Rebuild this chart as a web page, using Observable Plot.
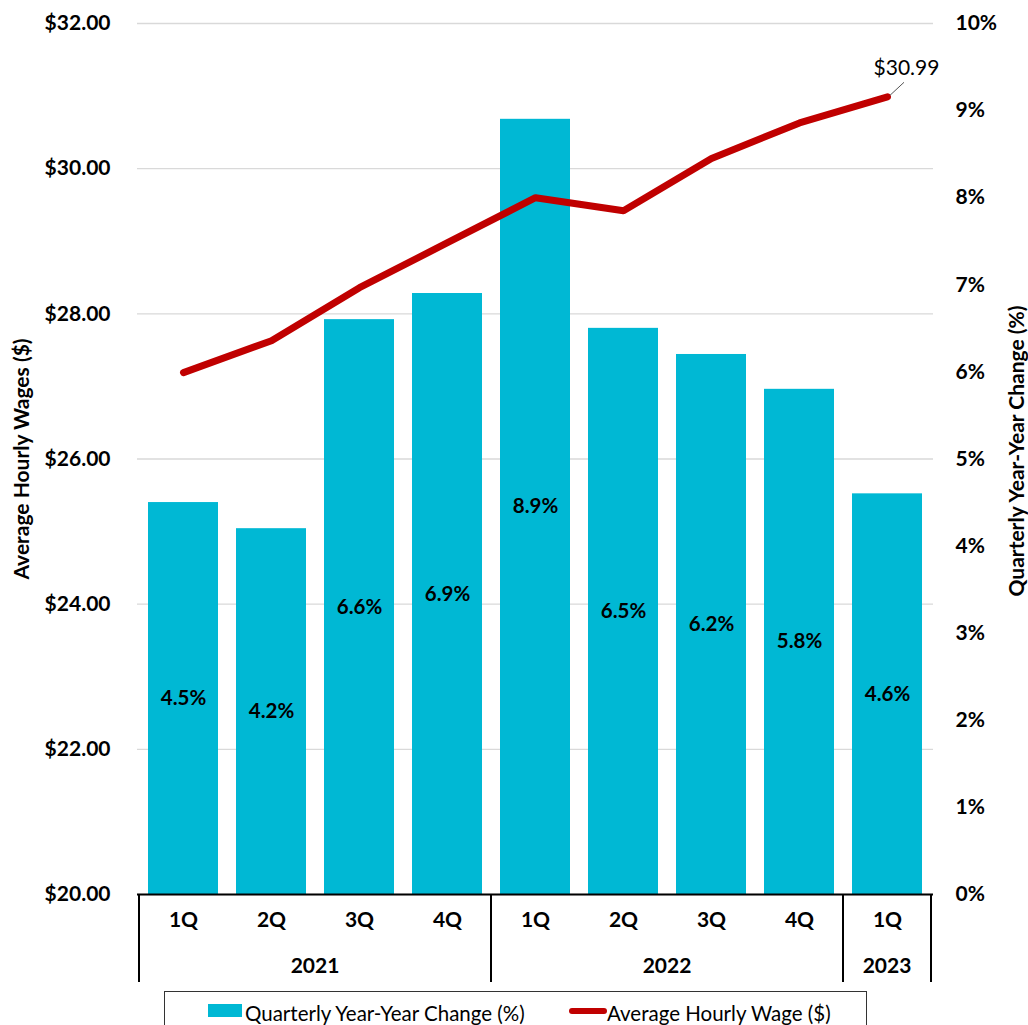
<!DOCTYPE html>
<html>
<head>
<meta charset="utf-8">
<script src="https://cdn.jsdelivr.net/npm/d3@7"></script>
<script src="https://cdn.jsdelivr.net/npm/@observablehq/plot@0.6"></script>
<style>
  html, body { margin: 0; padding: 0; background: #fff; }
  body { position: relative; width: 1028px; height: 1025px; overflow: hidden; font-family: Lato, "Open Sans", sans-serif; }
  #chart svg { display: block; }
  #legend { position: absolute; left: 164px; top: 991px; width: 703px; height: 50px; box-sizing: border-box;
            border: 1.5px solid #333; background: #fff; }
  .item { position: absolute; top: 9px; font-size: 20.5px; color: #000; line-height: 24px; white-space: nowrap; }
  .sw-bar { position: absolute; left: 43px; top: 12px; width: 34px; height: 13px; background: #00B8D4; }
  .sw-line { position: absolute; left: 404px; top: 16px; width: 38px; height: 6px; border-radius: 3px; background: #C00000; }
</style>
</head>
<body>
<div id="chart"></div>
<div id="legend">
  <div class="sw-bar"></div><div class="item" style="left:80px">Quarterly Year-Year Change (%)</div>
  <div class="sw-line"></div><div class="item" style="left:442px">Average Hourly Wage ($)</div>
</div>
<script>
// ---- data ----
const quarters   = ["1Q", "2Q", "3Q", "4Q", "1Q", "2Q", "3Q", "4Q", "1Q"];
const years      = ["2021", "2021", "2021", "2021", "2022", "2022", "2022", "2022", "2023"];
const yoyChange  = [4.5, 4.2, 6.6, 6.9, 8.9, 6.5, 6.2, 5.8, 4.6];            // %
const hourlyWage = [27.19, 27.63, 28.36, 28.98, 29.60, 29.42, 30.14, 30.63, 30.99]; // $
const wageTicks  = [20, 22, 24, 26, 28, 30, 32];
const pctTicks   = [0, 1, 2, 3, 4, 5, 6, 7, 8, 9, 10];
const wageDomain = [20, 32];
const pctDomain  = [0, 10];
const leftTitle  = "Average Hourly Wages ($)";
const rightTitle = "Quarterly Year-Year Change (%)";

// map wage ($) onto the percent axis so both share one y scale
const toPct = w => (w - wageDomain[0]) / (wageDomain[1] - wageDomain[0]) * (pctDomain[1] - pctDomain[0]) + pctDomain[0];

const data = quarters.map((q, i) => ({
  key: years[i] + " " + q, quarter: q, year: years[i], pct: yoyChange[i], wage: hourlyWage[i]
}));
const last = data[data.length - 1];

const W = 1028, H = 990, baseY = 894;
const bold = {fontSize: 21, fontWeight: "bold", fill: "#000"};
const FONT = "Lato, 'Open Sans', sans-serif";

const plot = Plot.plot({
  width: W, height: H,
  marginLeft: 137, marginRight: 95, marginTop: 23, marginBottom: H - baseY,
  style: {fontFamily: FONT, background: "#fff", color: "#000", overflow: "visible"},
  x: {type: "band", domain: data.map(d => d.key), paddingInner: 0.2, paddingOuter: 0.1, axis: null},
  y: {domain: pctDomain, axis: null},
  marks: [
    Plot.ruleY(wageTicks, {y: toPct, stroke: "#d9d9d9", strokeWidth: 1.3}),
    Plot.barY(data, {x: "key", y: "pct", fill: "#00B8D4"}),
    Plot.text(data, {x: "key", y: d => d.pct / 2, text: d => d.pct.toFixed(1) + "%", ...bold, fontSize: 20.5}),
    Plot.line(data, {x: "key", y: d => toPct(d.wage), stroke: "#C00000", strokeWidth: 7,
                     strokeLinecap: "round", strokeLinejoin: "round"}),
    Plot.text([last], {x: "key", y: d => toPct(d.wage), text: d => "$" + d.wage.toFixed(2),
                       dx: 19, dy: -29, fontSize: 21, fill: "#000"}),
    // left ($) axis labels
    Plot.text(wageTicks, {y: toPct, text: d => "$" + d.toFixed(2), frameAnchor: "left",
                          textAnchor: "end", dx: -27, ...bold}),
    // right (%) axis
    Plot.axisY({anchor: "right", ticks: pctTicks, tickSize: 0, tickPadding: 22,
                tickFormat: d => d + "%", label: null, fontSize: 21, fontWeight: "bold", fill: "#000"}),
    // baseline
    Plot.ruleY([0], {stroke: "#000", strokeWidth: 2}),
    // quarter labels
    Plot.text(data, {x: "key", text: "quarter", frameAnchor: "bottom", dy: 32, ...bold}),
    // axis titles
    Plot.text([leftTitle], {frameAnchor: "left", textAnchor: "middle", dx: -115, rotate: -90,
                            fontSize: 21, fontWeight: "bold", fill: "#000"}),
    Plot.text([rightTitle], {frameAnchor: "right", textAnchor: "middle", dx: 84, dy: -8, rotate: -90,
                             fontSize: 21, fontWeight: "bold", fill: "#000"})
  ]
});
document.getElementById("chart").appendChild(plot);

// ---- year groups, separators and callout leader, positioned with Plot's scales ----
const xs = plot.scale("x"), ys = plot.scale("y");
const half = (xs.step - xs.bandwidth) / 2;
const svg = d3.select(plot);
const groups = d3.groups(data, d => d.year);
const bounds = [];
groups.forEach(([yr, rows]) => {
  const x0 = xs.apply(rows[0].key) - half;
  const x1 = xs.apply(rows[rows.length - 1].key) + xs.bandwidth + half;
  bounds.push(x0, x1);
  svg.append("text").attr("x", (x0 + x1) / 2).attr("y", baseY + 74)
    .attr("text-anchor", "middle").attr("dominant-baseline", "middle")
    .attr("font-size", 21).attr("font-weight", "bold").attr("fill", "#000")
    .attr("font-family", FONT).text(yr);
});
Array.from(new Set(bounds.map(b => Math.round(b * 10) / 10))).forEach(bx => {
  svg.append("line").attr("x1", bx).attr("x2", bx).attr("y1", baseY).attr("y2", baseY + 88)
    .attr("stroke", "#000").attr("stroke-width", 2);
});
const px = xs.apply(last.key) + xs.bandwidth / 2, py = ys.apply(toPct(last.wage));
svg.append("line").attr("x1", px + 3).attr("y1", py - 1).attr("x2", px + 17).attr("y2", py - 14)
  .attr("stroke", "#555").attr("stroke-width", 1);
</script>
</body>
</html>
